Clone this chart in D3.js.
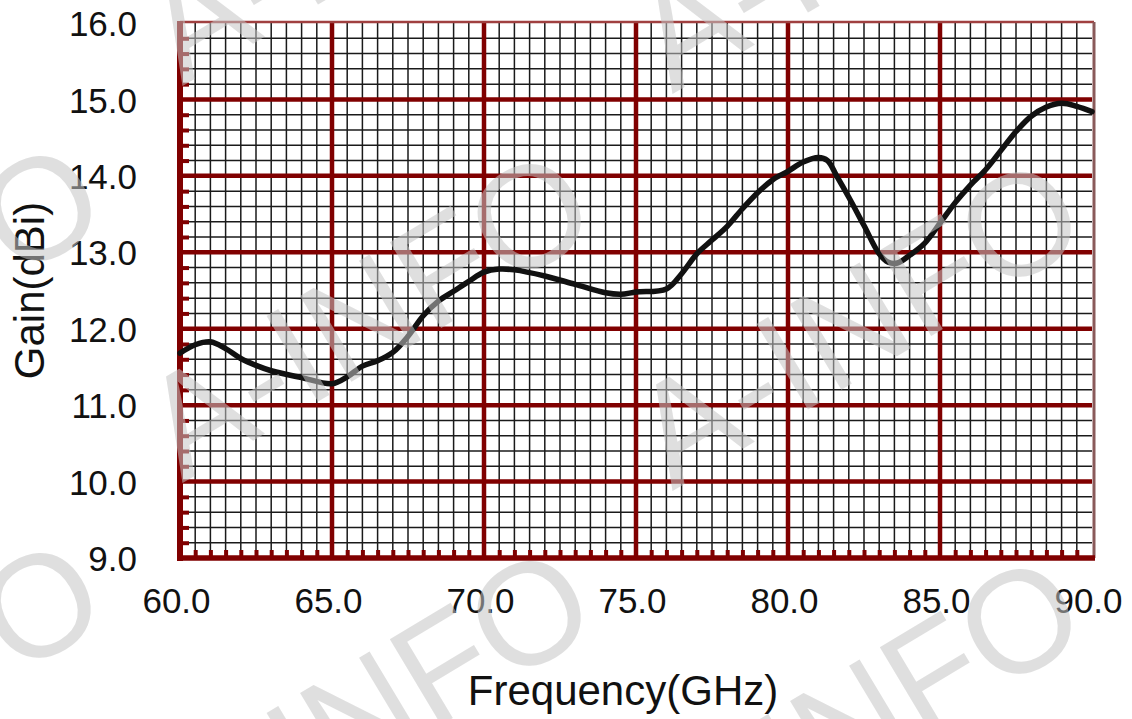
<!DOCTYPE html>
<html>
<head>
<meta charset="utf-8">
<script src="https://cdn.jsdelivr.net/npm/d3@7"></script>
<style>
  html, body { margin: 0; padding: 0; background: #fff; }
  svg { display: block; font-family: "Liberation Sans", Arial, sans-serif; }
</style>
</head>
<body>
<svg id="chart" width="1132" height="719"></svg>
<script>
// ---- data ----
const freq = [60.0, 60.5, 61.0, 61.5, 62.0, 62.5, 63.0, 64.0, 65.0, 65.5, 66.0, 66.5, 67.0, 67.5, 68.0, 68.5,
  69.0, 69.5, 70.0, 70.5, 71.0, 72.0, 73.0, 74.0, 74.5, 75.0, 76.0, 76.5, 77.0, 77.5, 78.0, 78.5, 79.0, 79.5,
  80.0, 80.5, 81.0, 81.3, 81.6, 82.0, 82.5, 83.0, 83.3, 83.6, 84.0, 84.5, 85.0, 85.5, 86.0, 86.5, 87.0, 87.5,
  88.0, 88.5, 89.0, 89.5, 90.0];
const gain = [11.68, 11.79, 11.83, 11.74, 11.61, 11.52, 11.45, 11.36, 11.28, 11.37, 11.51, 11.58, 11.69, 11.90, 12.17, 12.36,
  12.49, 12.62, 12.74, 12.78, 12.77, 12.69, 12.58, 12.47, 12.45, 12.48, 12.52, 12.72, 12.98, 13.16, 13.34, 13.57, 13.78, 13.95,
  14.06, 14.18, 14.24, 14.20, 14.00, 13.72, 13.35, 12.98, 12.87, 12.86, 12.96, 13.12, 13.38, 13.65, 13.88, 14.08, 14.33, 14.58,
  14.78, 14.90, 14.95, 14.91, 14.84];
const xTicks = [60, 65, 70, 75, 80, 85, 90];
const yTicks = [9, 10, 11, 12, 13, 14, 15, 16];
const xLabel = "Frequency(GHz)";
const yLabel = "Gain(dBi)";
const watermark = "A-INFO";

// ---- layout ----
const L = 180, R = 1092, T = 23, B = 558;
const svg = d3.select("#chart");
const x = d3.scaleLinear().domain([60, 90]).range([L, R]);
const y = d3.scaleLinear().domain([9, 16]).range([B, T]);

const dark = "#800000";

// minor grid
const xMinor = d3.range(60.5, 90, 0.5).filter(v => Math.abs(v % 5) > 1e-6);
const yMinor = d3.range(9.2, 16, 0.2).filter(v => Math.abs(v - Math.round(v)) > 1e-6);

const g = svg.append("g");
g.selectAll("line.mx").data(xMinor).join("line")
  .attr("x1", d => x(d)).attr("x2", d => x(d)).attr("y1", T).attr("y2", B)
  .attr("stroke", "#1a1a1a").attr("stroke-width", 1.5);
g.selectAll("line.my").data(yMinor).join("line")
  .attr("y1", d => y(d)).attr("y2", d => y(d)).attr("x1", L).attr("x2", R)
  .attr("stroke", "#1a1a1a").attr("stroke-width", 1.5);

// major grid
g.selectAll("line.Mx").data(xTicks.slice(1, -1)).join("line")
  .attr("x1", d => x(d)).attr("x2", d => x(d)).attr("y1", T).attr("y2", B)
  .attr("stroke", dark).attr("stroke-width", 4.5);
g.selectAll("line.My").data(yTicks.slice(1, -1)).join("line")
  .attr("y1", d => y(d)).attr("y2", d => y(d)).attr("x1", L).attr("x2", R)
  .attr("stroke", dark).attr("stroke-width", 4.5);

// borders: top and right thin
g.append("line").attr("x1", L).attr("x2", R + 2).attr("y1", T - 1).attr("y2", T - 1)
  .attr("stroke", "#a04040").attr("stroke-width", 2.5);
g.append("line").attr("x1", R + 2).attr("x2", R + 2).attr("y1", T - 1).attr("y2", B)
  .attr("stroke", "#8a5a5a").attr("stroke-width", 3);

// left and bottom axes (thick) with inward ticks
const yAxis = d3.axisRight(y).tickValues(yMinor).tickSize(9).tickFormat("");
const ya = svg.append("g").attr("transform", `translate(${L},0)`).call(yAxis);
ya.select(".domain").remove();
ya.selectAll(".tick line").attr("stroke", dark).attr("stroke-width", 4);

const xAxis = d3.axisTop(x).tickValues(xMinor).tickSize(8).tickFormat("");
const xa = svg.append("g").attr("transform", `translate(0,${B})`).call(xAxis);
xa.select(".domain").remove();
xa.selectAll(".tick line").attr("stroke", dark).attr("stroke-width", 4);

svg.append("line").attr("x1", L).attr("x2", L).attr("y1", T - 2).attr("y2", B + 3)
  .attr("stroke", dark).attr("stroke-width", 6);
svg.append("line").attr("x1", L - 3).attr("x2", R + 3).attr("y1", B).attr("y2", B)
  .attr("stroke", dark).attr("stroke-width", 5.5);

// tick labels
const xl = d3.axisBottom(x).tickValues(xTicks).tickSize(0).tickPadding(0).tickFormat(d3.format(".1f"));
const xlg = svg.append("g").attr("transform", `translate(-4,${B})`).call(xl);
xlg.select(".domain").remove();
xlg.selectAll("text").attr("font-size", 35).attr("fill", "#111")
  .attr("font-family", "Liberation Sans, Arial, sans-serif")
  .attr("dy", null).attr("y", 55);

const yl = d3.axisLeft(y).tickValues(yTicks).tickSize(0).tickPadding(0).tickFormat(d3.format(".1f"));
const ylg = svg.append("g").attr("transform", `translate(${L - 43},0)`).call(yl);
ylg.select(".domain").remove();
ylg.selectAll("text").attr("font-size", 35).attr("fill", "#111")
  .attr("font-family", "Liberation Sans, Arial, sans-serif")
  .attr("x", 0).attr("dy", "0.36em");

// axis titles
svg.append("text").attr("x", 623).attr("y", 705).attr("text-anchor", "middle")
  .attr("font-size", 42).attr("fill", "#111").text(xLabel);
svg.append("text").attr("transform", `translate(44,${(T + B) / 2}) rotate(-90)`)
  .attr("text-anchor", "middle").attr("font-size", 42).attr("fill", "#111").text(yLabel);

// curve
const pts = freq.map((f, i) => [f, gain[i]]);
svg.append("path").datum(pts)
  .attr("d", d3.line().x(d => x(d[0])).y(d => y(d[1])).curve(d3.curveCatmullRom.alpha(0.5)))
  .attr("fill", "none").attr("stroke", "#111").attr("stroke-width", 5.5)
  .attr("stroke-linejoin", "round").attr("stroke-linecap", "round");

// watermark
const wm = svg.append("g").attr("pointer-events", "none");
for (let i = -1; i <= 1; i++) {
  for (let j = -1; j <= 1; j++) {
    const cx = 366 + i * 490, cy = 312 + i * 8 + j * 397;
    wm.append("text").attr("transform", `translate(${cx},${cy}) rotate(-31)`)
      .attr("text-anchor", "middle").attr("dy", "0.36em")
      .attr("font-size", 145).attr("fill", "#c4c4c4").attr("fill-opacity", 0.55)
      .text(watermark);
  }
}
</script>
</body>
</html>
